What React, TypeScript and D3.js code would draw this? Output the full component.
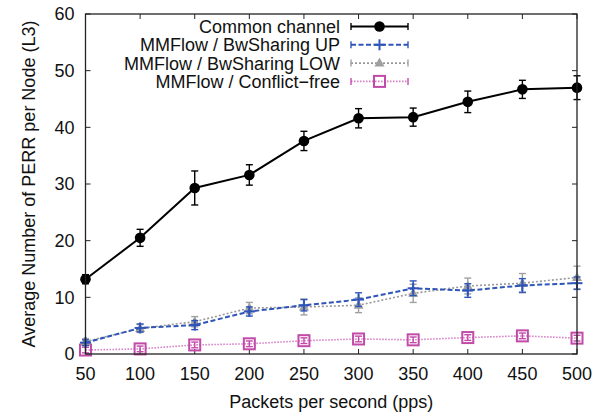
import React from "react";
import * as d3 from "d3";

const xValues = [50, 100, 150, 200, 250, 300, 350, 400, 450, 500];
const commonChannel = [13.2, 20.5, 29.3, 31.6, 37.6, 41.6, 41.8, 44.5, 46.7, 47.0];
const commonErr = [0.8, 1.5, 3.0, 1.8, 1.7, 1.7, 1.6, 1.9, 1.6, 2.1];
const bwUp = [2.0, 4.6, 5.1, 7.5, 8.6, 9.6, 11.6, 11.2, 12.1, 12.5];
const bwUpErr = [0.5, 0.7, 0.8, 0.8, 1.0, 1.2, 1.3, 1.2, 1.2, 1.1];
const bwLow = [2.2, 4.5, 5.7, 8.1, 8.3, 8.6, 10.7, 12.0, 12.5, 13.5];
const bwLowErr = [0.5, 0.7, 0.9, 1.0, 1.4, 1.3, 1.6, 1.4, 1.7, 2.0];
const conflictFree = [0.7, 0.9, 1.6, 1.8, 2.35, 2.65, 2.5, 2.9, 3.2, 2.8];
const conflictErr = [0.5, 0.5, 0.5, 0.5, 0.5, 0.5, 0.5, 0.5, 0.5, 0.5];
const yTicks = [0, 10, 20, 30, 40, 50, 60];
const seriesNames = [
  "Common channel",
  "MMFlow / BwSharing UP",
  "MMFlow / BwSharing LOW",
  "MMFlow / Conflict\u2212free",
];

const W = 596;
const H = 416;
const M = { left: 85.5, right: 577, top: 14, bottom: 354 };
const FONT = "'Liberation Sans', Arial, Helvetica, sans-serif";
const FS = 18;

type Series = {
  name: string;
  values: number[];
  err: number[];
  color: string;
  lineColor: string;
  width: number;
  dash: string;
  marker: "circle" | "plus" | "triangle" | "square";
};

const series: Series[] = [
  { name: seriesNames[0], values: commonChannel, err: commonErr, color: "#000000", lineColor: "#000000", width: 2, dash: "none", marker: "circle" },
  { name: seriesNames[1], values: bwUp, err: bwUpErr, color: "#2f55b8", lineColor: "#2f55b8", width: 2, dash: "5,2.5", marker: "plus" },
  { name: seriesNames[2], values: bwLow, err: bwLowErr, color: "#a0a0a0", lineColor: "#999999", width: 1.6, dash: "2,2", marker: "triangle" },
  { name: seriesNames[3], values: conflictFree, err: conflictErr, color: "#c24aa8", lineColor: "#d77cc6", width: 1.6, dash: "1.5,1.5", marker: "square" },
];

function Marker({ s, x, y }: { s: Series; x: number; y: number }) {
  if (s.marker === "circle") return <circle cx={x} cy={y} r={5.3} fill={s.color} />;
  if (s.marker === "plus")
    return (
      <g stroke={s.color} strokeWidth={2}>
        <line x1={x - 5.5} x2={x + 5.5} y1={y} y2={y} />
        <line x1={x} x2={x} y1={y - 5.5} y2={y + 5.5} />
      </g>
    );
  if (s.marker === "triangle")
    return <path d={`M${x},${y - 5.5}L${x + 5},${y + 3.5}L${x - 5},${y + 3.5}Z`} fill={s.color} />;
  return <rect x={x - 5.5} y={y - 5.5} width={11} height={11} fill="none" stroke={s.color} strokeWidth={2} />;
}

export default function App() {
  const x = d3.scaleLinear().domain([50, 500]).range([M.left, M.right]);
  const y = d3.scaleLinear().domain([0, 60]).range([M.bottom, M.top]);
  const cap = 3.5;
  const tick = 5;

  return (
    <svg width={W} height={H} style={{ position: "fixed", left: 0, top: 0, background: "#fff" }} fontFamily={FONT}>
      <rect width={W} height={H} fill="#fff" />
      <g stroke="#222" strokeWidth={1}>
        {yTicks.map((t) => (
          <g key={"yt" + t}>
            <line x1={M.left} x2={M.left + tick} y1={y(t)} y2={y(t)} />
            <line x1={M.right} x2={M.right - tick} y1={y(t)} y2={y(t)} />
          </g>
        ))}
        {xValues.map((t) => (
          <g key={"xt" + t}>
            <line x1={x(t)} x2={x(t)} y1={M.bottom} y2={M.bottom - tick} />
            <line x1={x(t)} x2={x(t)} y1={M.top} y2={M.top + tick} />
          </g>
        ))}
      </g>
      <g fontSize={FS} fill="#111">
        {yTicks.map((t) => (
          <text key={"yl" + t} x={M.left - 11} y={y(t)} dy="0.36em" textAnchor="end">
            {t}
          </text>
        ))}
        {xValues.map((t) => (
          <text key={"xl" + t} x={x(t)} y={380} textAnchor="middle">
            {t}
          </text>
        ))}
        <text x={(M.left + M.right) / 2} y={407.5} textAnchor="middle">
          Packets per second (pps)
        </text>
        <text transform={`translate(35,${(M.top + M.bottom) / 2}) rotate(-90)`} textAnchor="middle">
          Average Number of PERR per Node (L3)
        </text>
      </g>
      {series
        .slice()
        .reverse()
        .map((s) => {
          const line = d3
            .line<number>()
            .x((_, i) => x(xValues[i]))
            .y((v) => y(v));
          return (
            <g key={s.name}>
              <path d={line(s.values) || ""} fill="none" stroke={s.lineColor} strokeWidth={s.width} strokeDasharray={s.dash} />
              <g stroke={s.color} strokeWidth={1.4}>
                {s.values.map((v, i) => {
                  const cx = x(xValues[i]);
                  const y1 = y(v - s.err[i]);
                  const y2 = y(v + s.err[i]);
                  return (
                    <g key={i}>
                      <line x1={cx} x2={cx} y1={y1} y2={y2} />
                      <line x1={cx - cap} x2={cx + cap} y1={y1} y2={y1} />
                      <line x1={cx - cap} x2={cx + cap} y1={y2} y2={y2} />
                    </g>
                  );
                })}
              </g>
              {s.values.map((v, i) => (
                <Marker key={i} s={s} x={x(xValues[i])} y={y(v)} />
              ))}
            </g>
          );
        })}
      <rect x={M.left} y={M.top} width={M.right - M.left} height={M.bottom - M.top} fill="none" stroke="#222" strokeWidth={1.3} />
      <g fontSize={FS} fill="#111">
        {series.map((s, i) => {
          const ly = 26.5 + i * 18.3;
          const x1 = 351;
          const x2 = 408;
          const mx = (x1 + x2) / 2;
          return (
            <g key={"lg" + i}>
              <text x={340} y={ly} dy="0.36em" textAnchor="end">
                {s.name}
              </text>
              <line x1={x1} x2={x2} y1={ly} y2={ly} stroke={s.lineColor} strokeWidth={s.width} strokeDasharray={s.dash} />
              <g stroke={s.color} strokeWidth={1.4}>
                <line x1={x1} x2={x1} y1={ly - cap} y2={ly + cap} />
                <line x1={x2} x2={x2} y1={ly - cap} y2={ly + cap} />
              </g>
              <Marker s={s} x={mx} y={ly} />
            </g>
          );
        })}
      </g>
    </svg>
  );
}
